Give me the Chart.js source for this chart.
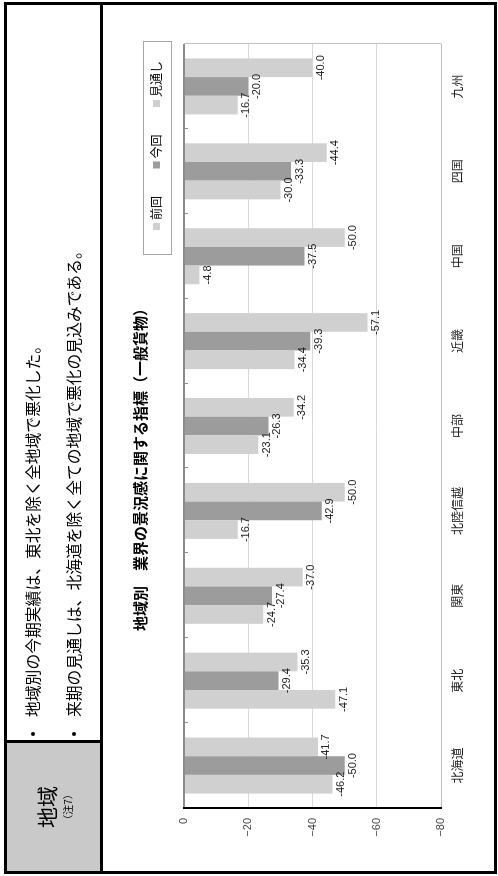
<!DOCTYPE html>
<html>
<head>
<meta charset="utf-8">
<script src="https://cdn.jsdelivr.net/npm/chart.js@4.4.0/dist/chart.umd.min.js"></script>
<style>
html, body { margin: 0; padding: 0; background: #fff; overflow: hidden; }
#page {
  position: absolute; left: 0; top: 0; width: 876px; height: 498px;
  transform-origin: 0 0; transform: translate(0, 876px) rotate(-90deg);
  font-family: "Noto Sans CJK JP", sans-serif; color: #000; background: #fff;
}
#cv { position: absolute; left: 0; top: 0; }
.frame { position: absolute; left: 2px; top: 4px; width: 872px; height: 493px; border: 3px solid #000; box-sizing: border-box; }
.rowline { position: absolute; left: 2px; top: 100px; width: 872px; height: 3px; background: #000; }
.colline { position: absolute; left: 133px; top: 4px; width: 3px; height: 98px; background: #000; }
.head { position: absolute; left: 5px; top: 7px; width: 128px; height: 93px; background: #c9c9c9; text-align: center; }
.head .big { position: absolute; left: 0; width: 100%; top: 27px; font-size: 21px; line-height: 24px; }
.head .small { position: absolute; left: 0; width: 100%; top: 55px; font-size: 10px; line-height: 12px; }
.bullet { position: absolute; font-size: 15.8px; line-height: 20px; white-space: nowrap; }
.dot { position: absolute; width: 4px; height: 4px; border-radius: 50%; background: #000; }
</style>
</head>
<body>
<div id="page">
  <canvas id="cv" width="876" height="498"></canvas>
  <div class="head"><div class="big">地域</div><div class="small">（注7）</div></div>
  <div class="dot" style="left:140px; top:31px;"></div>
  <div class="bullet" style="left:159px; top:23px;">地域別の今期実績は、東北を除く全地域で悪化した。</div>
  <div class="dot" style="left:140px; top:72px;"></div>
  <div class="bullet" style="left:159px; top:64px;">来期の見通しは、北海道を除く全ての地域で悪化の見込みである。</div>
  <div class="frame"></div>
  <div class="rowline"></div>
  <div class="colline"></div>
</div>
<script>
// 地域別 業界の景況感に関する指標（一般貨物）
var regions = ['北海道', '東北', '関東', '北陸信越', '中部', '近畿', '中国', '四国', '九州'];
var zenkai = [-46.2, -47.1, -24.7, -16.7, -23.1, -34.4, -4.8, -30.0, -16.7];
var konkai = [-50.0, -29.4, -27.4, -42.9, -26.3, -39.3, -37.5, -33.3, -20.0];
var mitoshi = [-41.7, -35.3, -37.0, -50.0, -34.2, -57.1, -50.0, -44.4, -40.0];
var series_names = ['前回', '今回', '見通し'];
var y_ticks = [0, -20, -40, -60, -80];
var y_tick_labels = ['0', '−20', '−40', '−60', '−80'];
var chart_title = '地域別　業界の景況感に関する指標（一般貨物）';

var light = '#d0d0d0';
var dark = '#9c9c9c';
var jp = "'Noto Sans CJK JP', sans-serif";

Chart.defaults.font.family = jp;

// titulo, leyenda, marco y etiquetas
var extras = {
  id: 'extras',
  beforeDatasetsDraw: function (chart) {
    var ctx = chart.ctx, a = chart.chartArea, x = chart.scales.x;
    ctx.save();
    ctx.strokeStyle = '#bfbfbf';
    ctx.lineWidth = 1;
    ctx.beginPath();
    ctx.moveTo(Math.round(a.right) + 0.5, a.top);
    ctx.lineTo(Math.round(a.right) + 0.5, a.bottom);
    ctx.stroke();
    ctx.strokeStyle = '#8c8c8c';
    ctx.beginPath();
    for (var i = 1; i < regions.length; i++) {
      var px = Math.round(x.getPixelForValue(i - 0.5)) + 0.5;
      ctx.moveTo(px, a.top);
      ctx.lineTo(px, a.top + 4);
    }
    ctx.stroke();
    ctx.restore();
  },
  afterDatasetsDraw: function (chart) {
    var ctx = chart.ctx;
    ctx.save();
    ctx.font = "11px 'Liberation Sans', sans-serif";
    ctx.fillStyle = '#222';
    ctx.textAlign = 'center';
    ctx.textBaseline = 'top';
    chart.data.datasets.forEach(function (ds, i) {
      chart.getDatasetMeta(i).data.forEach(function (bar, j) {
        ctx.fillText(ds.data[j].toFixed(1), bar.x, bar.y + 3);
      });
    });
    ctx.restore();
  },
  afterDraw: function (chart) {
    var ctx = chart.ctx;
    ctx.save();
    // titulo
    ctx.font = 'bold 15px ' + jp;
    ctx.fillStyle = '#000';
    ctx.textAlign = 'center';
    ctx.textBaseline = 'middle';
    ctx.fillText(chart_title, 410, 140);
    // leyenda
    ctx.strokeStyle = '#a6a6a6';
    ctx.lineWidth = 1;
    ctx.strokeRect(621.5, 143.5, 213, 28);
    ctx.font = '12px ' + jp;
    ctx.textAlign = 'left';
    chart.data.datasets.forEach(function (ds, i) {
      var lx = 646 + i * 61.5;
      ctx.fillStyle = ds.backgroundColor;
      ctx.fillRect(lx, 153, 7, 7);
      ctx.fillStyle = '#000';
      ctx.fillText(ds.label, lx + 10, 156.5);
    });
    ctx.restore();
  }
};

var chart_region = new Chart(document.getElementById('cv').getContext('2d'), {
  type: 'bar',
  data: {
    labels: regions,
    datasets: [
      { label: series_names[0], data: zenkai, backgroundColor: light },
      { label: series_names[1], data: konkai, backgroundColor: dark },
      { label: series_names[2], data: mitoshi, backgroundColor: light }
    ]
  },
  options: {
    responsive: false,
    animation: false,
    devicePixelRatio: 1,
    layout: { padding: { left: 38, right: 44, top: 184, bottom: 27 } },
    datasets: { bar: { categoryPercentage: 0.66, barPercentage: 1.0, borderWidth: 0 } },
    plugins: {
      legend: { display: false },
      title: { display: false },
      tooltip: { enabled: false }
    },
    scales: {
      x: {
        position: 'bottom',
        afterFit: function (s) { s.height = 30; },
        grid: { display: false, drawTicks: false },
        border: { display: false },
        ticks: { color: '#222', font: { size: 12 }, padding: 9, maxRotation: 0, autoSkip: false }
      },
      y: {
        min: -80,
        max: 0,
        afterFit: function (s) { s.width = 30; },
        afterBuildTicks: function (s) { s.ticks = y_ticks.map(function (v) { return { value: v }; }); },
        grid: {
          drawTicks: false,
          color: function (c) {
            if (c.tick.value === 0) return '#8c8c8c';
            if (c.tick.value === -80) return '#bfbfbf';
            return '#d9d9d9';
          },
          lineWidth: function (c) { return c.tick.value === 0 ? 2 : 1; }
        },
        border: { display: true, color: '#000', width: 2 },
        ticks: {
          color: '#444',
          padding: 10,
          font: { family: "'Liberation Sans', sans-serif", size: 11 },
          callback: function (v) {
            var k = y_ticks.indexOf(v);
            return k >= 0 ? y_tick_labels[k] : '';
          }
        }
      }
    }
  },
  plugins: [extras]
});
</script>
</body>
</html>
